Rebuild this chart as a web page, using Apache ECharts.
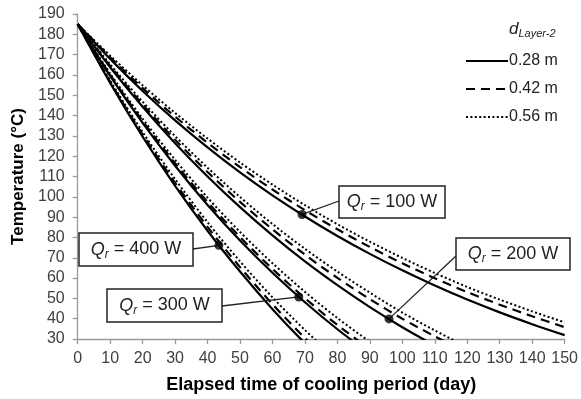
<!DOCTYPE html>
<html><head><meta charset="utf-8">
<script src="https://cdn.jsdelivr.net/npm/echarts@6/dist/echarts.min.js"></script>
<style>html,body{margin:0;padding:0;background:#fff}#c{width:581px;height:399px}</style>
</head><body><div id="c"></div>
<script>
// ---- data ----
const days = [0,10,20,30,40,50,60,70,80,90,100,110,120,130,140,150];
const thicknesses = ['0.28 m','0.42 m','0.56 m'];
const powers = ['100','200','300','400'];

const q100_028 = [185,167.9,152.1,137.6,124.3,112.0,100.7,90.3,80.7,71.9,63.8,56.3,49.4,43.1,37.3,31.9];
const q100_042 = [185,168.7,153.5,139.5,126.6,114.6,103.6,93.4,84.0,75.3,67.3,59.9,53.1,46.9,41.2,35.8];
const q100_056 = [185,169.5,154.9,141.3,128.7,116.9,106.0,95.9,86.5,77.9,69.9,62.5,55.6,49.4,43.6,38.2];

const q200_028 = [185,163.8,144.3,126.4,110.0,94.9,81.0,68.2,56.5,45.7,35.8,26.8,18.4];
const q200_042 = [185,164.4,145.5,128.1,112.2,97.5,84.0,71.5,60.1,49.6,40.0,31.3,23.2];
const q200_056 = [185,165.2,146.8,129.9,114.3,99.9,86.6,74.4,63.2,52.8,43.0,34.2,26.0];

const q300_028 = [185,159.5,136.4,115.3,96.0,78.5,62.6,48.1,34.8,22.8];
const q300_042 = [185,160.0,137.3,116.5,97.5,80.2,64.5,50.1,36.9,25.0];
const q300_056 = [185,160.7,138.5,118.2,99.6,82.7,67.3,53.2,40.3,28.6];

const q400_028 = [185,156.1,129.6,105.4,83.3,63.2,44.7,27.9,12.5];
const q400_042 = [185,156.6,130.6,106.9,85.2,65.4,47.1,30.5,15.3];
const q400_056 = [185,157.3,131.9,108.7,87.5,68.2,50.5,34.4,19.7];

// annotated points on the 0.28 m curves (order: 100, 200, 300, 400 W)
const markerDays  = [69.1, 95.9, 68.1, 43.5];
const markerTemps = [91.3, 39.9, 50.7, 76.1];

const xTicks = {min:0, max:150, step:10};
const yTicks = {min:30, max:190, step:10};

// ---- layout (pixels) ----
const boxes = [
  {x:339, y:186, w:106, h:32, ax:339, ay:201},
  {x:456, y:238, w:114, h:32, ax:456, ay:256},
  {x:107, y:289, w:115, h:33, ax:222, ay:306},
  {x:79,  y:233, w:114, h:33, ax:193, ay:249}
];

const curves = {
  '100':[q100_028,q100_042,q100_056],
  '200':[q200_028,q200_042,q200_056],
  '300':[q300_028,q300_042,q300_056],
  '400':[q400_028,q400_042,q400_056]
};
const styles = [
  {type:'solid', width:2.2},
  {type:[9,6], width:2.2},
  {type:[2,2.4], width:2}
];

const series = [];
powers.forEach(p => {
  curves[p].forEach((vals, k) => {
    series.push({
      type:'line', name:thicknesses[k], smooth:0.3, symbol:'none',
      clip:true,
      lineStyle:{color:'#000', type:styles[k].type, width:styles[k].width},
      itemStyle:{color:'#000'},
      data: vals.map((v,i)=>[days[i], v])
    });
  });
});
series.push({
  type:'scatter', name:'markers', symbolSize:9, z:10,
  itemStyle:{color:'#000'},
  data: markerDays.map((d,i)=>[d, markerTemps[i]])
});

const chart = echarts.init(document.getElementById('c'), null, {renderer:'canvas'});
const FONT = 'Liberation Sans, Arial';
const axisCommon = {
  axisLine:{show:true, lineStyle:{color:'#9a9a9a', width:1.3}},
  axisTick:{show:true, inside:false, length:5, lineStyle:{color:'#9a9a9a', width:1.3}},
  splitLine:{show:false},
  axisLabel:{color:'#404040', fontSize:16, fontFamily:FONT},
  nameLocation:'middle',
  nameTextStyle:{color:'#000', fontWeight:'bold', fontSize:18, fontFamily:FONT}
};
chart.setOption({
  animation:false,
  backgroundColor:'#fff',
  grid:{left:77.7, right:13, top:14, bottom:58, containLabel:false},
  xAxis:Object.assign({}, axisCommon, {
    type:'value', min:xTicks.min, max:xTicks.max, interval:xTicks.step,
    name:'Elapsed time of cooling period (day)', nameGap:37,
    axisLabel:Object.assign({}, axisCommon.axisLabel, {margin:12})
  }),
  yAxis:Object.assign({}, axisCommon, {
    type:'value', min:yTicks.min, max:yTicks.max, interval:yTicks.step,
    name:'Temperature (°C)', nameGap:47,
    nameTextStyle:Object.assign({}, axisCommon.nameTextStyle, {fontSize:17}),
    axisLabel:Object.assign({}, axisCommon.axisLabel, {margin:13})
  }),
  legend:{
    orient:'vertical', left:460, top:48, itemWidth:42, itemHeight:14, itemGap:12,
    data:thicknesses, selectedMode:false,
    itemStyle:{opacity:0},
    textStyle:{color:'#222', fontSize:16, fontFamily:FONT, padding:[0,0,0,-4]}
  },
  series: series
});

// annotations
const g = [];
g.push({
  type:'text', left:509, top:21,
  style:{
    text:'{d|d}{s|Layer-2}',
    rich:{
      d:{fontSize:17, fontStyle:'italic', fontFamily:FONT, fill:'#222', verticalAlign:'middle', lineHeight:20},
      s:{fontSize:11, fontStyle:'italic', fontFamily:FONT, fill:'#222', verticalAlign:'bottom', lineHeight:20}
    }
  }
});
boxes.forEach((b,i) => {
  const pt = chart.convertToPixel({gridIndex:0}, [markerDays[i], markerTemps[i]]);
  g.push({type:'line', z:5, shape:{x1:b.ax, y1:b.ay, x2:pt[0], y2:pt[1]}, style:{stroke:'#222', lineWidth:1.3}});
  g.push({type:'rect', z:6, shape:{x:b.x, y:b.y, width:b.w, height:b.h}, style:{fill:'#fff', stroke:'#222', lineWidth:1.5}});
  g.push({
    type:'text', z:7, x:b.x + b.w/2, y:b.y + b.h/2,
    style:{
      text:'{q|Q}{r|r}{n| = ' + powers[i] + ' W}',
      align:'center', verticalAlign:'middle',
      rich:{
        q:{fontSize:18, fontStyle:'italic', fontFamily:FONT, fill:'#222', verticalAlign:'middle', lineHeight:22},
        r:{fontSize:12, fontStyle:'italic', fontFamily:FONT, fill:'#222', verticalAlign:'bottom', lineHeight:22},
        n:{fontSize:18, fontFamily:FONT, fill:'#222', verticalAlign:'middle', lineHeight:22}
      }
    }
  });
});
chart.setOption({graphic:g});
</script>
</body></html>
